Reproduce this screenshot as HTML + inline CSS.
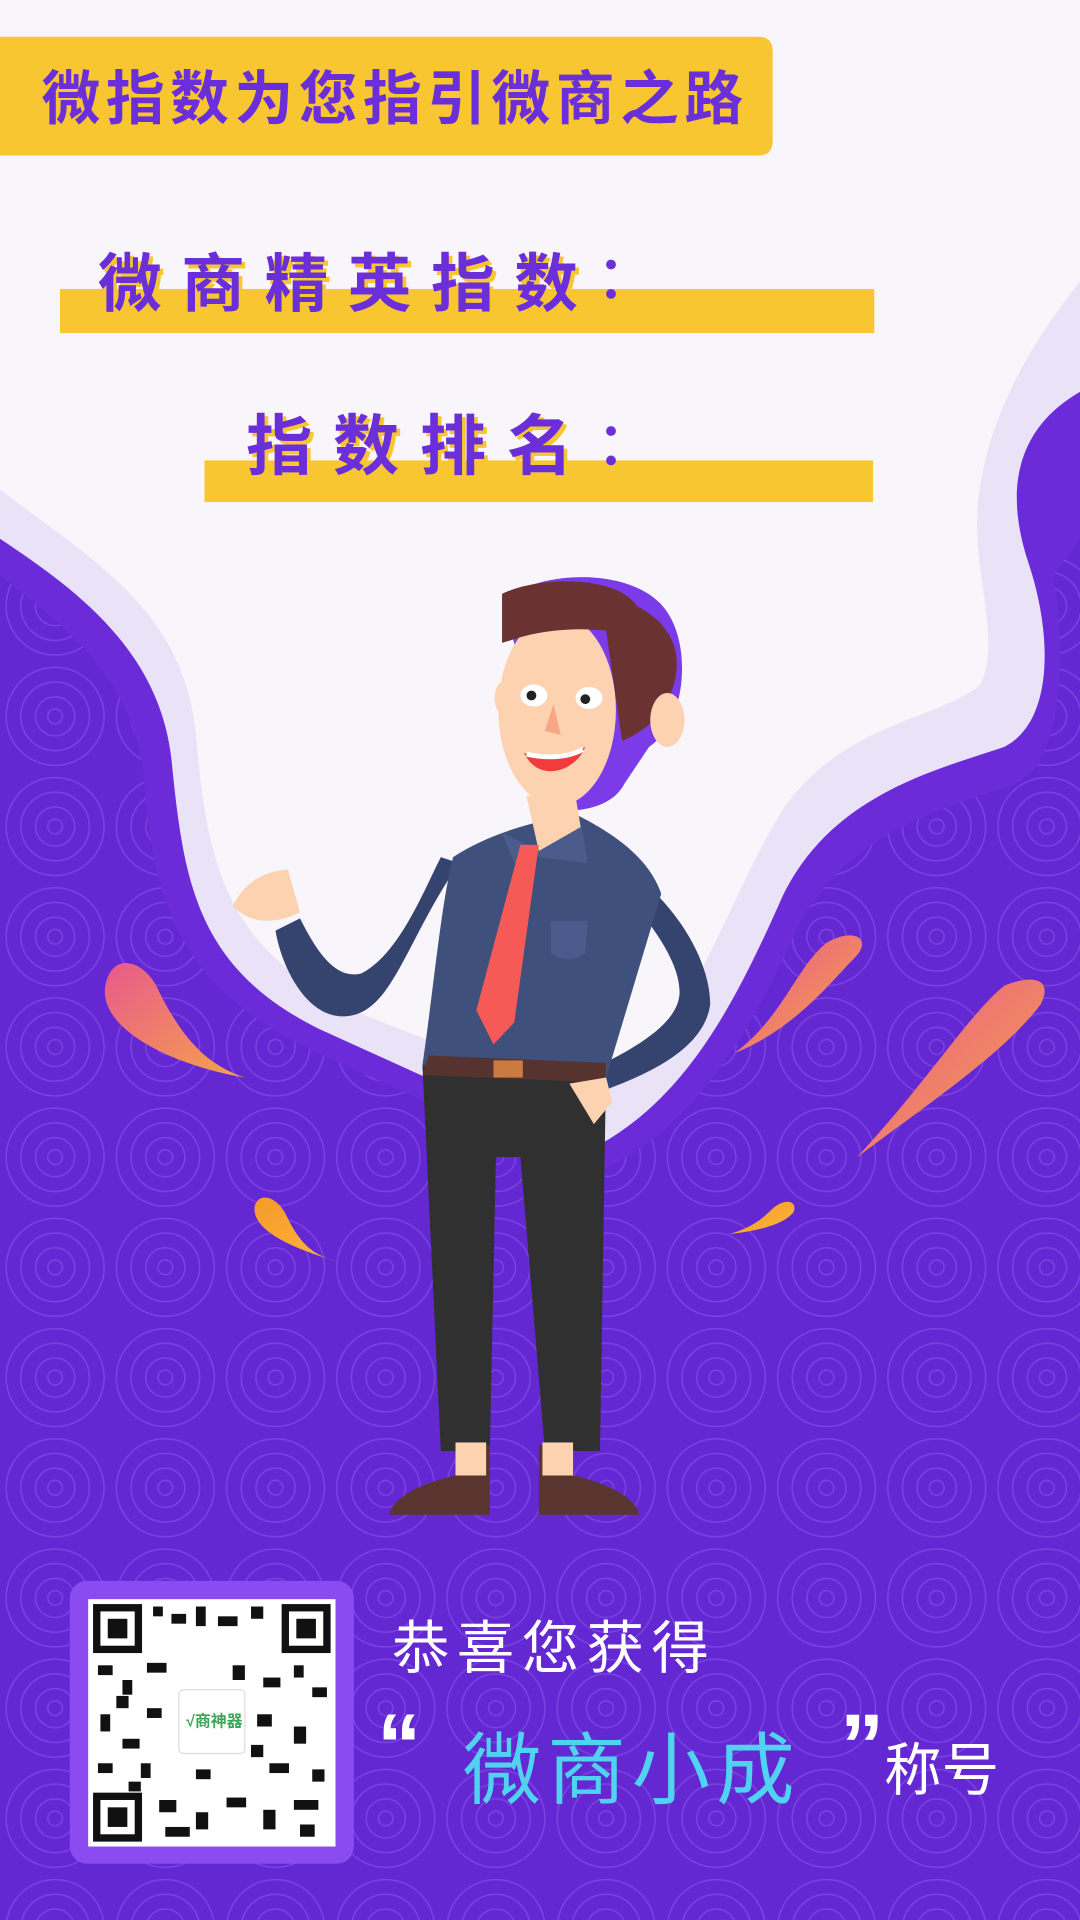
<!DOCTYPE html>
<html><head><meta charset="utf-8"><style>
html,body{margin:0;padding:0;width:1080px;height:1920px;overflow:hidden;background:#F8F5FB}
svg{display:block}
text{font-family:"Liberation Sans","Noto Sans CJK SC",sans-serif}
</style></head><body>
<svg width="1080" height="1920" viewBox="0 0 882 1568">
<defs>
<pattern id="sw" width="90" height="90" patternUnits="userSpaceOnUse">
<circle cx="45" cy="45" r="40" fill="none" stroke="#8a55ea" stroke-width="1.2" opacity="0.6"/>
<circle cx="45" cy="45" r="28" fill="none" stroke="#8a55ea" stroke-width="1.2" opacity="0.6"/>
<circle cx="45" cy="45" r="16" fill="none" stroke="#8a55ea" stroke-width="1.2" opacity="0.6"/>
<circle cx="45" cy="45" r="6" fill="none" stroke="#8a55ea" stroke-width="1.2" opacity="0.6"/>
</pattern>
<linearGradient id="pet" x1="0" y1="0" x2="1" y2="1"><stop offset="0" stop-color="#E85A8C"/><stop offset="1" stop-color="#F6A34A"/></linearGradient>
<linearGradient id="pet2" x1="0" y1="0" x2="1" y2="1"><stop offset="0" stop-color="#F59A2A"/><stop offset="1" stop-color="#FDB63A"/></linearGradient>
</defs>
<rect width="882" height="1568" fill="#F8F5FB"/>
<path d="M0,400 C80,460 150,500 160,600 C170,720 190,780 300,830 L480,900 C560,860 590,740 640,660 C690,590 760,590 800,560 C820,520 790,460 800,400 C810,330 850,270 882,230 L882,1568 L0,1568Z" fill="#EAE3F8"/>
<path d="M0,440 C60,480 130,530 140,620 C150,720 160,790 260,840 L480,940 C560,900 600,820 640,730 C680,650 760,630 820,610 C860,590 860,520 840,460 C820,400 830,350 882,320 L882,1568 L0,1568 Z" fill="#6C2BD9"/>
<path d="M0,470 C50,510 110,550 118,640 C125,740 150,810 260,860 L480,960 C560,930 610,850 650,760 C690,680 770,660 830,640 C870,620 870,530 860,470 L882,440 L882,1568 L0,1568 Z" fill="#6428D3"/>
<path d="M0,470 C50,510 110,550 118,640 C125,740 150,810 260,860 L480,960 C560,930 610,850 650,760 C690,680 770,660 830,640 C870,620 870,530 860,470 L882,440 L882,1568 L0,1568 Z" fill="url(#sw)"/>
<path d="M0,30 H619 Q631,30 631,42 V115 Q631,127 619,127 H0Z" fill="#F8C630"/>
<text x="34" y="97" font-size="48" font-weight="bold" fill="#6B2FD9" letter-spacing="4.5">微指数为您指引微商之路</text>
<rect x="49" y="236" width="665" height="36" fill="#F8C630"/>
<text x="83" y="253" font-size="52" font-weight="bold" fill="#F8C630" letter-spacing="16">微商精英指数</text>
<text x="80" y="250" font-size="52" font-weight="bold" fill="#6B2FD9" letter-spacing="16">微商精英指数</text>
<circle cx="499" cy="216" r="4" fill="#6B2FD9"/><circle cx="499" cy="240" r="4" fill="#6B2FD9"/>
<rect x="167" y="376" width="546" height="34" fill="#F8C630"/>
<text x="204" y="386" font-size="54" font-weight="bold" fill="#F8C630" letter-spacing="17">指数排名</text>
<text x="201" y="383" font-size="54" font-weight="bold" fill="#6B2FD9" letter-spacing="17">指数排名</text>
<circle cx="499" cy="352" r="4" fill="#6B2FD9"/><circle cx="499" cy="376" r="4" fill="#6B2FD9"/>
<path d="M200,880 C140,870 80,840 86,805 C92,775 120,785 130,810 C150,850 170,870 200,880Z" fill="url(#pet)"/>
<path d="M600,860 C650,840 680,800 700,780 C712,765 695,758 675,770 C650,790 640,830 600,860Z" fill="url(#pet)"/>
<path d="M700,945 C760,900 820,860 850,820 C860,800 845,795 820,805 C790,830 760,880 700,945Z" fill="url(#pet)"/>
<path d="M275,1030 C240,1020 205,1005 208,985 C212,972 228,978 235,995 C245,1015 255,1025 275,1030Z" fill="url(#pet2)"/>
<path d="M595,1008 C620,1005 640,1000 648,990 C652,980 640,978 630,988 C620,998 610,1004 595,1008Z" fill="url(#pet2)"/>
<g>
<path d="M412,490 C440,465 520,462 545,500 C565,530 560,590 530,610 L510,640 C500,660 470,665 450,660 Z" fill="#7B3BE8"/>
<path d="M345,870 L495,870 L490,1185 L445,1185 L425,945 L405,945 L400,1185 L360,1185 Z" fill="#303030"/>
<path d="M400,1180 L372,1180 L372,1205 C340,1212 320,1225 318,1237 L400,1237Z" fill="#5A3530"/>
<path d="M440,1180 L468,1180 L468,1205 C500,1212 520,1225 522,1237 L440,1237Z" fill="#5A3530"/>
<rect x="372" y="1178" width="25" height="27" fill="#FCD2B0"/><rect x="443" y="1178" width="25" height="27" fill="#FCD2B0"/>
<path d="M375,705 C330,770 320,830 280,830 C250,830 230,790 225,760 L245,750 C260,780 275,800 295,795 C325,780 345,730 360,700Z" fill="#34446E"/>
<path d="M510,710 C545,730 580,780 580,820 C575,860 520,880 495,890 L490,870 C520,855 555,835 555,810 C555,780 520,740 505,725Z" fill="#34446E"/>
<path d="M370,700 C400,680 440,670 470,665 C500,680 530,700 540,730 L495,880 L345,870 C355,800 360,740 370,700Z" fill="#3F507C"/>
<path d="M350,862 L495,868 L494,884 L345,878Z" fill="#56332F"/>
<rect x="403" y="866" width="24" height="14" fill="#C97B40"/>
<path d="M450,752 H480 L478,778 C470,786 455,784 450,778Z" fill="#4B5C8C"/>
<path d="M430,650 L470,650 L475,680 L440,695Z" fill="#FCD2B0"/>
<path d="M410,680 L440,695 L475,675 L480,705 L440,700 L420,705Z" fill="#4B5C8C"/>
<path d="M425,690 L440,690 L420,835 L403,853 L389,825Z" fill="#F55A56"/>
<ellipse cx="455" cy="580" rx="48" ry="78" fill="#FCD2B0"/>
<ellipse cx="412" cy="570" rx="8" ry="14" fill="#FCD2B0"/>
<path d="M410,485 C440,470 505,470 520,495 C540,505 560,525 550,560 C540,590 520,600 508,605 L495,515 C470,512 440,515 420,522 L410,525Z" fill="#6B3232"/>
<ellipse cx="436" cy="568" rx="11" ry="9" fill="#fff"/><circle cx="434" cy="568" r="4" fill="#222"/>
<ellipse cx="481" cy="570" rx="11" ry="9" fill="#fff"/><circle cx="478" cy="571" r="4" fill="#222"/>
<path d="M452,575 L458,600 L445,597Z" fill="#F6A886"/>
<path d="M428,615 C450,620 465,618 478,610 C470,630 440,640 428,615Z" fill="#F23B3B"/>
<path d="M430,616 C450,620 465,618 476,612" stroke="#fff" stroke-width="4" fill="none"/>
<ellipse cx="545" cy="588" rx="14" ry="22" fill="#FCD2B0"/>
<path d="M190,740 C200,720 215,712 235,710 L245,745 C225,755 205,755 190,740Z" fill="#FCD2B0"/>
<path d="M465,885 L495,880 L500,900 L485,918 Z" fill="#FCD2B0"/>
</g>
<rect x="57" y="1291" width="232" height="231" rx="14" fill="#8A4CF0"/>
<rect x="72" y="1306" width="202" height="202" fill="#fff"/>
<g fill="#111">
<rect x="76" y="1310" width="40" height="40"/><rect x="82" y="1316" width="28" height="28" fill="#fff"/><rect x="88" y="1322" width="16" height="16"/>
<rect x="230" y="1310" width="40" height="40"/><rect x="236" y="1316" width="28" height="28" fill="#fff"/><rect x="242" y="1322" width="16" height="16"/>
<rect x="76" y="1464" width="40" height="40"/><rect x="82" y="1470" width="28" height="28" fill="#fff"/><rect x="88" y="1476" width="16" height="16"/>
<rect x="125" y="1312" width="8" height="8"/><rect x="140" y="1318" width="12" height="8"/><rect x="160" y="1312" width="8" height="16"/><rect x="178" y="1320" width="16" height="8"/><rect x="205" y="1312" width="10" height="10"/>
<rect x="80" y="1360" width="12" height="8"/><rect x="100" y="1372" width="8" height="12"/><rect x="120" y="1358" width="16" height="8"/><rect x="190" y="1360" width="10" height="12"/><rect x="215" y="1370" width="14" height="8"/><rect x="240" y="1360" width="8" height="10"/><rect x="255" y="1378" width="12" height="8"/>
<rect x="82" y="1400" width="8" height="14"/><rect x="100" y="1420" width="14" height="8"/><rect x="80" y="1440" width="12" height="8"/><rect x="115" y="1440" width="8" height="12"/>
<rect x="210" y="1400" width="12" height="10"/><rect x="240" y="1410" width="10" height="14"/><rect x="220" y="1440" width="16" height="8"/><rect x="255" y="1445" width="10" height="10"/>
<rect x="130" y="1470" width="14" height="10"/><rect x="160" y="1480" width="10" height="14"/><rect x="185" y="1468" width="16" height="8"/><rect x="215" y="1478" width="10" height="16"/><rect x="240" y="1470" width="20" height="8"/><rect x="245" y="1490" width="12" height="10"/><rect x="135" y="1492" width="20" height="8"/>
<rect x="95" y="1385" width="10" height="10"/><rect x="120" y="1395" width="12" height="8"/><rect x="105" y="1455" width="10" height="8"/><rect x="205" y="1425" width="10" height="10"/><rect x="160" y="1445" width="12" height="8"/>
</g>
<rect x="146" y="1380" width="54" height="52" rx="4" fill="#fff" stroke="#ddd"/>
<text x="152" y="1410" font-size="13" font-weight="bold" fill="#3DA55A">√商神器</text>
<text x="320" y="1362" font-size="47" fill="#fff" letter-spacing="6">恭喜您获得</text>
<text x="308" y="1450" font-size="72" font-weight="bold" fill="#fff">“</text>
<text x="378" y="1468" font-size="64" fill="#4FD3F0" letter-spacing="5">微商小成</text>
<text x="686" y="1450" font-size="72" font-weight="bold" fill="#fff">”</text>
<text x="722" y="1462" font-size="47" fill="#fff">称号</text>
</svg>
</body></html>
